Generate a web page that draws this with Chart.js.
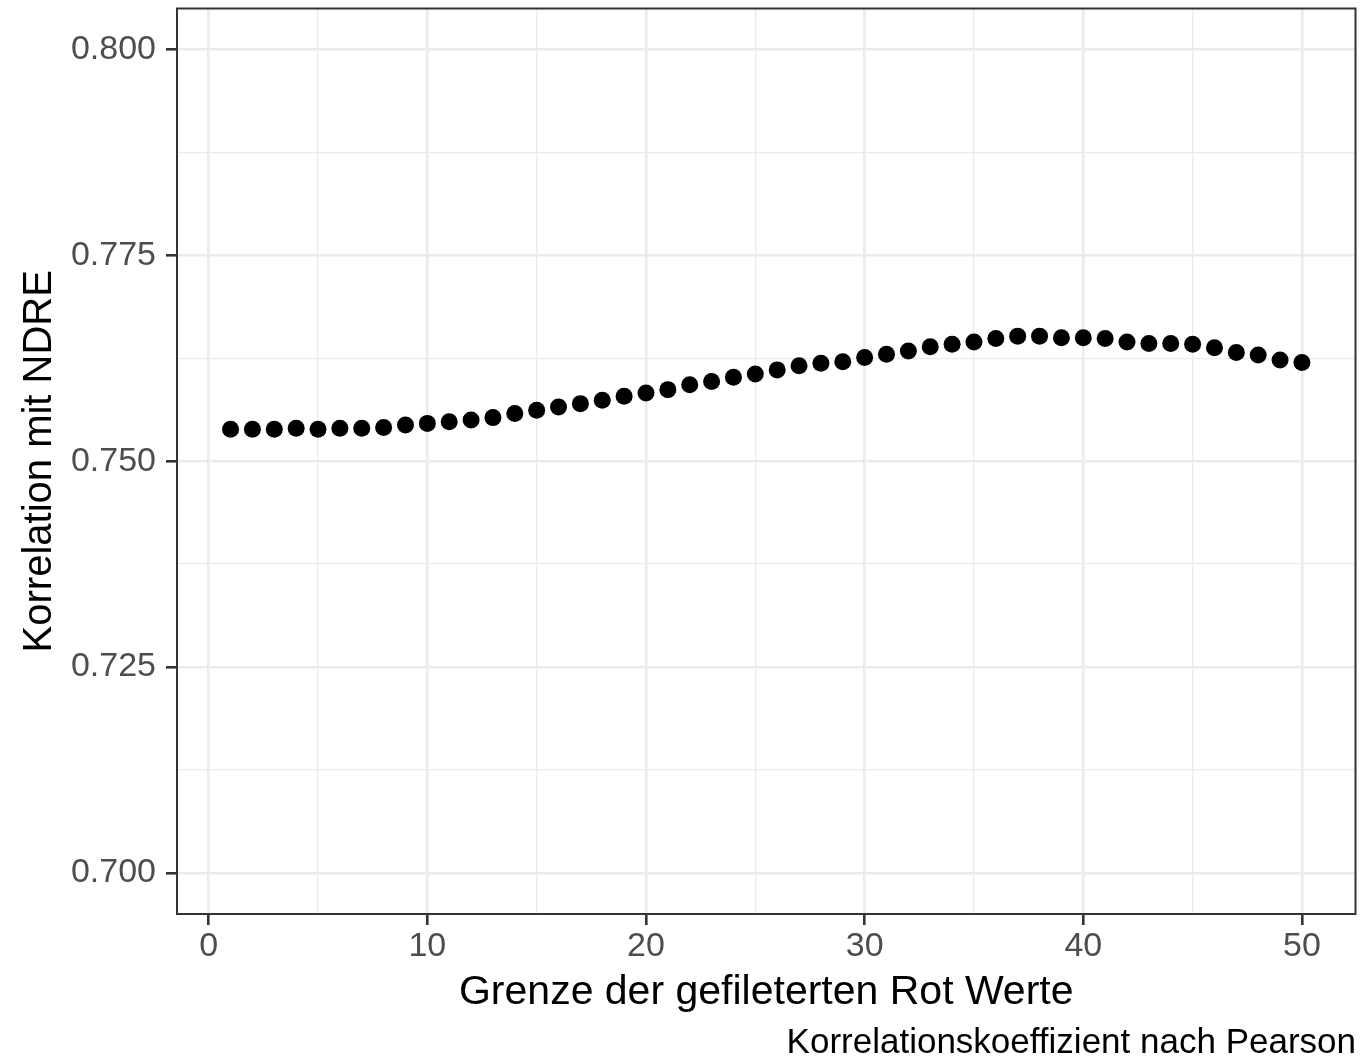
<!DOCTYPE html>
<html>
<head>
<meta charset="utf-8">
<script src="https://cdn.jsdelivr.net/npm/chart.js@4.4.1/dist/chart.umd.min.js"></script>
<style>
  html, body { margin: 0; padding: 0; background: #fff; }
  #wrap { width: 1364px; height: 1064px; }
</style>
</head>
<body>
<div id="wrap"><canvas id="grafico"></canvas></div>
<script>
// Grenze der gefilterten Rot-Werte (x) und Pearson-Korrelation mit NDRE (y)
const grenze = [1, 2, 3, 4, 5, 6, 7, 8, 9, 10,
  11, 12, 13, 14, 15, 16, 17, 18, 19, 20,
  21, 22, 23, 24, 25, 26, 27, 28, 29, 30,
  31, 32, 33, 34, 35, 36, 37, 38, 39, 40,
  41, 42, 43, 44, 45, 46, 47, 48, 49, 50];
const korrelation = [0.7539, 0.7539, 0.7539, 0.7540, 0.7539, 0.7540, 0.7540, 0.7541, 0.7544, 0.7546,
  0.7548, 0.7550, 0.7553, 0.7558, 0.7562, 0.7566, 0.7570, 0.7574, 0.7579, 0.7583,
  0.7587, 0.7593, 0.7597, 0.7602, 0.7606, 0.7611, 0.7616, 0.7619, 0.7621, 0.7626,
  0.7630, 0.7634, 0.7639, 0.7642, 0.7645, 0.7649, 0.7652, 0.7652, 0.7650, 0.7650,
  0.7649, 0.7645, 0.7643, 0.7643, 0.7642, 0.7638, 0.7632, 0.7629, 0.7623, 0.7620];

// Ticks: Haupt- und Nebengitter
const xTicks = [0, 5, 10, 15, 20, 25, 30, 35, 40, 45, 50];
const xMajor = [0, 10, 20, 30, 40, 50];
const yTicks = [0.7, 0.7125, 0.725, 0.7375, 0.75, 0.7625, 0.775, 0.7875, 0.8];
const yMajor = [0.7, 0.725, 0.75, 0.775, 0.8];

const isMajor = (list, v) => list.some(m => Math.abs(m - v) < 1e-9);

const punkte = grenze.map((g, i) => ({ x: g, y: korrelation[i] }));

// Rahmen um das Panel
const rahmen = {
  id: 'rahmen',
  afterDraw(chart) {
    const { ctx, chartArea: a } = chart;
    ctx.save();
    ctx.strokeStyle = '#333333';
    ctx.lineWidth = 2;
    ctx.strokeRect(a.left, a.top, a.right - a.left, a.bottom - a.top);
    ctx.restore();
  }
};

function gridFor(major) {
  return {
    color: '#EBEBEB',
    lineWidth: c => (c.tick && isMajor(major, c.tick.value)) ? 2.6 : 1.3,
    tickColor: c => (c.tick && isMajor(major, c.tick.value)) ? '#333333' : 'rgba(0,0,0,0)',
    tickWidth: 2.6,
    tickLength: 11,
    drawTicks: true
  };
}

const ctx = document.getElementById('grafico').getContext('2d');

new Chart(ctx, {
  type: 'scatter',
  data: {
    datasets: [{
      label: 'Korrelation',
      data: punkte,
      backgroundColor: '#000000',
      borderWidth: 0,
      pointRadius: 8.5,
      pointHoverRadius: 8.5
    }]
  },
  options: {
    responsive: true,
    maintainAspectRatio: false,
    animation: false,
    devicePixelRatio: 1,
    layout: { padding: { left: 0, right: 8, top: 6, bottom: 0 } },
    plugins: {
      legend: { display: false },
      tooltip: { enabled: false },
      subtitle: {
        display: true,
        text: 'Korrelationskoeffizient nach Pearson',
        position: 'bottom',
        align: 'end',
        color: '#000000',
        font: { family: 'Liberation Sans', size: 35 },
        padding: { top: 0, bottom: 0 }
      }
    },
    scales: {
      x: {
        type: 'linear',
        min: -1.45,
        max: 52.45,
        afterBuildTicks: s => { s.ticks = xTicks.map(v => ({ value: v })); },
        afterFit: s => { s.height = 108; s.paddingLeft = 0; s.paddingRight = 0; },
        grid: gridFor(xMajor),
        border: { display: false },
        ticks: {
          autoSkip: false,
          maxRotation: 0,
          padding: 1,
          color: '#4D4D4D',
          font: { family: 'Liberation Sans', size: 34 },
          callback: v => isMajor(xMajor, v) ? String(v) : ''
        },
        title: {
          display: true,
          text: 'Grenze der gefileterten Rot Werte',
          color: '#000000',
          font: { family: 'Liberation Sans', size: 41 },
          padding: { top: 0, bottom: 5 }
        }
      },
      y: {
        type: 'linear',
        min: 0.695,
        max: 0.805,
        afterBuildTicks: s => { s.ticks = yTicks.map(v => ({ value: v })); },
        afterFit: s => { s.width = 177; s.paddingTop = 0; s.paddingBottom = 0; },
        grid: gridFor(yMajor),
        border: { display: false },
        ticks: {
          autoSkip: false,
          padding: 10,
          color: '#4D4D4D',
          font: { family: 'Liberation Sans', size: 34 },
          callback: v => isMajor(yMajor, v) ? v.toFixed(3) : ''
        },
        title: {
          display: true,
          text: 'Korrelation mit NDRE',
          color: '#000000',
          font: { family: 'Liberation Sans', size: 40 },
          padding: { top: 16, bottom: 0 }
        }
      }
    }
  },
  plugins: [rahmen]
});
</script>
</body>
</html>
